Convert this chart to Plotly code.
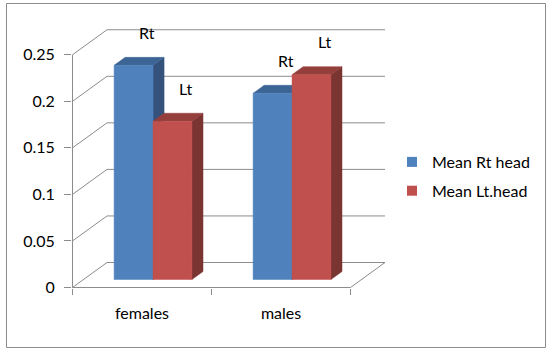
import plotly.graph_objects as go

# ---- data ----
categories = ["females", "males"]
series_names = ["Mean Rt head", "Mean Lt.head"]
rt_values = [0.23, 0.20]
lt_values = [0.17, 0.22]
point_labels = ["Rt", "Lt"]
y_ticks = [0, 0.05, 0.1, 0.15, 0.2, 0.25]
y_tick_text = ["0", "0.05", "0.1", "0.15", "0.2", "0.25"]

# ---- styling / geometry ----
W, H = 551, 351
L, R, T, B = 72, 395, 12, 288
PX_X, PX_Y = 139.0, 931.0
xmin = -0.5 / PX_X
xmax = xmin + (R - L) / PX_X
ymin = -0.5 / PX_Y
ymax = ymin + (B - T) / PX_Y
DX, DY = 34.5 / PX_X, 25.0 / PX_Y      # full depth of the 3D box
F0, F1 = 0.32, 0.64                     # bar depth (front / back fraction)
BAR_LEFT, BAR_W = 0.22, 0.28
GRID = "#8C8C8C"
FONT = "Lato"
FS = 16
front_cols = ["#4F81BD", "#C0504D"]
top_cols = ["#3C6494", "#943F3C"]
side_cols = ["#34527C", "#7A3432"]

n = len(categories)
series = [rt_values, lt_values]
fig = go.Figure()

# walls: back grid lines and left-wall slants
gx, gy = [], []
for yv in y_ticks:
    gx += [0, DX, n + DX, None]
    gy += [yv, yv + DY, yv + DY, None]
fig.add_trace(go.Scatter(x=gx, y=gy, mode="lines", line=dict(color=GRID, width=1),
                         hoverinfo="skip", showlegend=False))

# front value axis and floor
ax_x = [0, 0, None, 0, n, n + DX]
ax_y = [0, max(y_ticks), None, 0, 0, DY]
fig.add_trace(go.Scatter(x=ax_x, y=ax_y, mode="lines", line=dict(color=GRID, width=1),
                         hoverinfo="skip", showlegend=False))

# 3D bars
def poly(xs, ys, color):
    fig.add_trace(go.Scatter(x=xs + [xs[0]], y=ys + [ys[0]], mode="lines", fill="toself",
                             fillcolor=color, line=dict(color=color, width=0.5),
                             hoverinfo="skip", showlegend=False))

sx0, sy0 = F0 * DX, F0 * DY
sx1, sy1 = F1 * DX, F1 * DY
for c in range(n):
    for s, vals in enumerate(series):
        v = vals[c]
        a = c + BAR_LEFT + s * BAR_W
        b = a + BAR_W
        # side face
        poly([b + sx0, b + sx1, b + sx1, b + sx0], [sy0, sy1, v + sy1, v + sy0], side_cols[s])
        # top face
        poly([a + sx0, b + sx0, b + sx1, a + sx1], [v + sy0, v + sy0, v + sy1, v + sy1], top_cols[s])
        # front face
        poly([a + sx0, b + sx0, b + sx0, a + sx0], [sy0, sy0, v + sy0, v + sy0], front_cols[s])
        fig.add_annotation(x=(a + b) / 2 + 0.175, y=v + 0.044, text=point_labels[s],
                           showarrow=False, font=dict(family=FONT, size=FS, color="#000000"))

# legend entries
for s, name in enumerate(series_names):
    fig.add_trace(go.Scatter(x=[None], y=[None], mode="markers", name=name,
                             legendgroup=name,
                             marker=dict(symbol="square", size=10, color=front_cols[s])))

# chart border
fig.add_shape(type="rect", xref="paper", yref="paper",
              x0=(6.5 - L) / (R - L), x1=(545.5 - L) / (R - L),
              y0=(B - 347.5) / (B - T), y1=(B - 3.5) / (B - T),
              line=dict(color="#8C8C8C", width=1), fillcolor="rgba(0,0,0,0)", layer="below")

fig.update_layout(
    width=W, height=H,
    margin=dict(l=L, r=W - R, t=T, b=H - B, autoexpand=False),
    paper_bgcolor="white", plot_bgcolor="white",
    font=dict(family=FONT, size=FS, color="#000000"),
    xaxis=dict(range=[xmin, xmax], showgrid=False, zeroline=False, showline=False,
               tickmode="array", tickvals=[c + 0.5 for c in range(n)], ticktext=categories,
               ticks="", ticklabelstandoff=14, automargin=False, fixedrange=True,
               tickfont=dict(family=FONT, size=FS, color="#000000"),
               minor=dict(tickmode="array", tickvals=list(range(n + 1)), ticks="outside",
                          ticklen=6, tickcolor=GRID, tickwidth=1, showgrid=False)),
    yaxis=dict(range=[ymin, ymax], showgrid=False, zeroline=False, showline=False,
               tickmode="array", tickvals=y_ticks, ticktext=y_tick_text,
               ticks="outside", ticklen=7, tickcolor=GRID, tickwidth=1,
               ticklabelstandoff=6, automargin=False, fixedrange=True,
               tickfont=dict(family=FONT, size=FS, color="#000000")),
    legend=dict(x=(392 - L) / (R - L), xanchor="left", y=(B - 145) / (B - T), yanchor="top",
                tracegroupgap=5, font=dict(family=FONT, size=FS, color="#000000"),
                bgcolor="rgba(0,0,0,0)"),
    showlegend=True,
)

fig.write_html("out.html", config={"displayModeBar": False},
               post_script="document.body.style.margin='0';document.body.style.overflow='hidden';")
